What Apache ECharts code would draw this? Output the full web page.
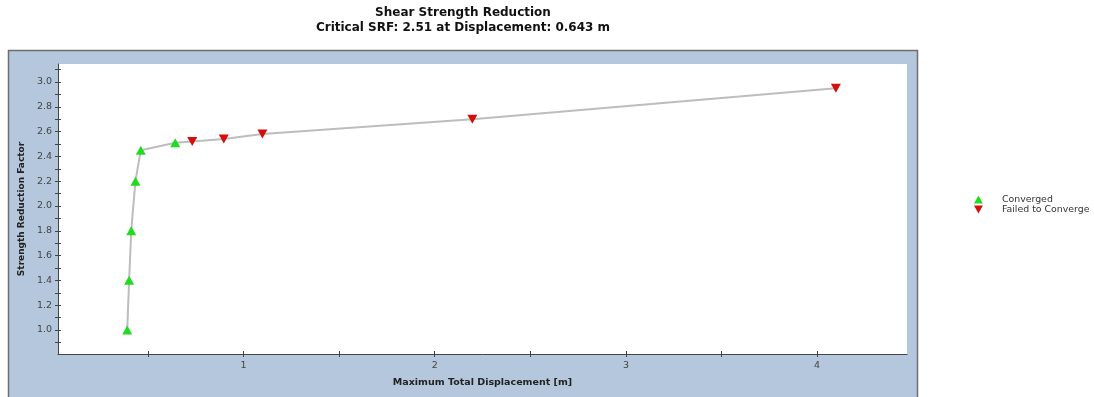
<!DOCTYPE html>
<html><head><meta charset="utf-8">
<script src="https://cdn.jsdelivr.net/npm/echarts@6/dist/echarts.min.js"></script>
<style>html,body{margin:0;padding:0;background:#fff}#c{width:1094px;height:397px}</style>
</head><body><div id="c"></div>
<script>
// All stages in order (displacement [m], SRF)
var allDisp = [0.392, 0.402, 0.413, 0.435, 0.463, 0.643, 0.732, 0.897, 1.099, 2.197, 4.098];
var allSRF  = [1.00, 1.40, 1.80, 2.20, 2.45, 2.51, 2.52, 2.54, 2.58, 2.70, 2.95];
var convergedDisp = [0.392, 0.402, 0.413, 0.435, 0.463, 0.643];
var convergedSRF  = [1.00, 1.40, 1.80, 2.20, 2.45, 2.51];
var failedDisp = [0.732, 0.897, 1.099, 2.197, 4.098];
var failedSRF  = [2.52, 2.54, 2.58, 2.70, 2.95];
var xTickValues = [0.5, 1, 1.5, 2, 2.5, 3, 3.5, 4];
var xLabelValues = [1, 2, 3, 4];
var yTickValues = [0.9,1.0,1.1,1.2,1.3,1.4,1.5,1.6,1.7,1.8,1.9,2.0,2.1,2.2,2.3,2.4,2.5,2.6,2.7,2.8,2.9,3.0,3.1];
var yLabelValues = [1.0,1.2,1.4,1.6,1.8,2.0,2.2,2.4,2.6,2.8,3.0];

function zip(a,b){return a.map(function(v,i){return [v,b[i]];});}
var UP = 'path://M5,0L10,9L0,9Z';
var DOWN = 'path://M0,0L10,0L5,9Z';
var FONT = 'DejaVu Sans';
var X_MIN = 0.03, X_MAX = 4.47, Y_MIN = 0.806, Y_MAX = 3.145;

function xAx(inner){
  return {
    type:'value', min:X_MIN, max:X_MAX, position:'bottom',
    name: inner ? '' : 'Maximum Total Displacement [m]', nameLocation:'middle', nameGap:24,
    nameTextStyle:{fontFamily:FONT, fontWeight:'bold', fontSize:9.5, color:'#222'},
    axisLine:{show:!inner, onZero:false, lineStyle:{color:'#444', width:1}},
    axisTick:{show:true, inside:inner, length:3, customValues:xTickValues, lineStyle:{color:'#444'}},
    axisLabel:{show:!inner, customValues:xLabelValues, fontFamily:FONT, fontSize:9.5, color:'#444', margin:7},
    splitLine:{show:false}
  };
}
function yAx(inner){
  return {
    type:'value', min:Y_MIN, max:Y_MAX, position:'left',
    name: inner ? '' : 'Strength Reduction Factor', nameLocation:'middle', nameGap:26,
    nameTextStyle:{fontFamily:FONT, fontWeight:'bold', fontSize:9, color:'#222'},
    axisLine:{show:!inner, onZero:false, lineStyle:{color:'#444', width:1}},
    axisTick:{show:true, inside:inner, length:3, customValues:yTickValues, lineStyle:{color:'#444'}},
    axisLabel:{show:!inner, customValues:yLabelValues, fontFamily:FONT, fontSize:9.5, color:'#444', margin:6,
      formatter:function(v){return v.toFixed(1);}},
    splitLine:{show:false}
  };
}

var chart = echarts.init(document.getElementById('c'), null, {renderer:'canvas'});
chart.setOption({
  animation:false,
  graphic:[{
    type:'rect', z:-10, silent:true,
    shape:{x:8.5, y:50.5, width:909, height:360},
    style:{fill:'#b4c7dc', stroke:'#6e6e6e', lineWidth:1.5}
  }],
  title:{
    text:'Shear Strength Reduction\nCritical SRF: 2.51 at Displacement: 0.643 m',
    left:458, top:0, textAlign:'center',
    textStyle:{fontFamily:FONT, fontWeight:'bold', fontSize:12, color:'#111', lineHeight:15}
  },
  legend:{
    orient:'vertical', left:969, top:190, itemGap:1, itemWidth:9, itemHeight:8,
    textStyle:{fontFamily:FONT, fontSize:9.4, color:'#333', padding:[0,0,0,14]},
    data:[{name:'Converged', icon:UP},{name:'Failed to Converge', icon:DOWN}]
  },
  grid:{left:58, right:187, top:64, bottom:43, show:true, backgroundColor:'#ffffff', borderWidth:0},
  xAxis:[xAx(false), xAx(true)],
  yAxis:[yAx(false), yAx(true)],
  series:[
    {type:'line', name:'path', data:zip(allDisp, allSRF), showSymbol:false, symbol:'none',
     lineStyle:{color:'#bdbdbd', width:2}, z:1, silent:true},
    {type:'scatter', name:'Converged', data:zip(convergedDisp, convergedSRF), symbol:UP,
     symbolSize:[10,9], itemStyle:{color:'#1fdc1f', opacity:1}, z:3},
    {type:'scatter', name:'Failed to Converge', data:zip(failedDisp, failedSRF), symbol:DOWN,
     symbolSize:[10,9], itemStyle:{color:'#d40d0d', opacity:1}, z:3}
  ]
});
</script></body></html>
